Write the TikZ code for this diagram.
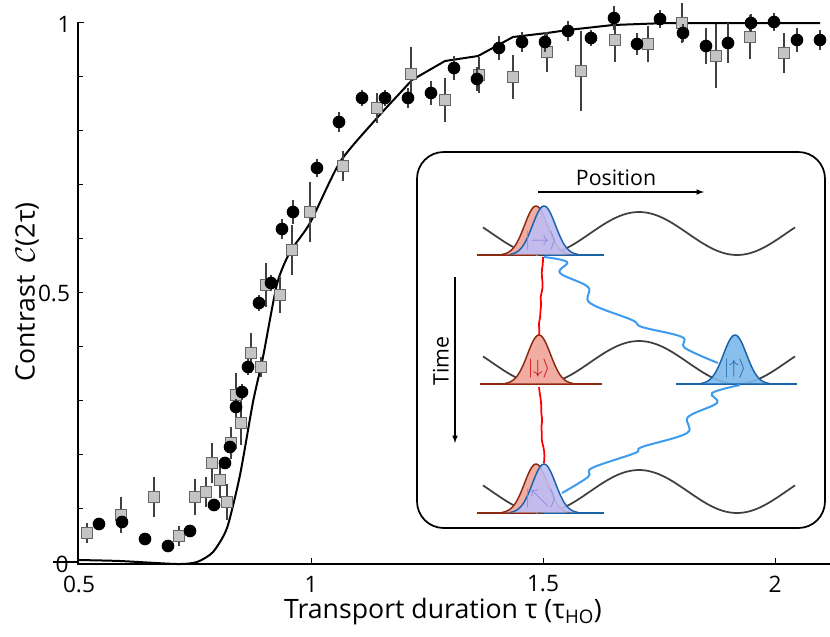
\documentclass[tikz,border=0pt]{standalone}
\usepackage{fontspec}
\setmainfont{Open Sans}
\usepackage{amsmath}
\usetikzlibrary{decorations.pathmorphing}

\definecolor{redline}{HTML}{8B2A10}
\definecolor{redfill}{HTML}{F2ADA3}
\definecolor{blueline}{HTML}{1A63A8}
\definecolor{bluefill}{HTML}{7DB9EA}
\definecolor{lavender}{HTML}{BDBDF3}
\definecolor{ketlav}{HTML}{8A84E0}
\definecolor{pathblue}{HTML}{3D9BF0}
\definecolor{sqgray}{HTML}{C4C4C4}

% wave packet: center x, baseline y, fill, line
\newcommand{\wavepacket}[4]{%
  \fill[#3] plot[domain=#1-34:#1+34, samples=50] (\x,{#2-49*exp(-((\x-#1)^2)/(2*11.5^2))}) -- cycle;
  \draw[#4, line width=1.1pt] plot[domain=#1-34:#1+34, samples=50] (\x,{#2-49*exp(-((\x-#1)^2)/(2*11.5^2))});
}
% trap potential for one row
\newcommand{\trap}[1]{%
  \draw[potential] plot[domain=483:795, samples=90] (\x,{#1+21.5*cos(1.8367*(\x-541))});
}

\begin{document}
\begin{tikzpicture}[x=0.75pt, y=-0.75pt,
    errbar/.style={draw=black!75, line width=0.9pt},
    circ/.style={circle, fill=black, inner sep=0pt, minimum size=9.5pt},
    sq/.style={rectangle, fill=sqgray, draw=black!60, line width=0.6pt, inner sep=0pt, minimum size=8pt},
    potential/.style={draw=black!75, line width=1.3pt},
    ticklabel/.style={font=\fontsize{17}{17}\selectfont},
    axislabel/.style={font=\fontsize{20}{20}\selectfont},
    ket/.style={font=\fontsize{14}{14}\selectfont, inner sep=0pt},
    wiggle/.style={line width=1.3pt, decorate, decoration={random steps, segment length=5pt, amplitude=0.9pt}, rounded corners=1.5pt}]

    \useasboundingbox (0,0) rectangle (830,636);

    % axes
    \draw[line width=0.8pt] (78,22) -- (78,564) -- (830,564);
    \draw[line width=0.8pt] (53,562) -- (78,562);
    \foreach \t in {1,...,9} \draw[line width=0.6pt] (78,{562-54*\t}) -- (83,{562-54*\t});
    \draw[line width=0.6pt] (78,22) -- (84,22);
    \foreach \px in {311,543,775} \draw[line width=0.6pt] (\px,564) -- (\px,558);

    % tick labels
    \node (y0) [ticklabel] at (62,564) {0};
    \node (y05) [ticklabel] at (54,293) {0.5};
    \node (y1) [ticklabel] at (64,24) {1};
    \node (x05) [ticklabel] at (79,584) {0.5};
    \node (x1) [ticklabel] at (311,584) {1};
    \node (x15) [ticklabel] at (543,584) {1.5};
    \node (x2) [ticklabel] at (775,584) {2};

    % axis labels
    \node (ylab) [axislabel, rotate=90] at (27,292) {Contrast\enspace$\mathcal{C}$(2τ)};
    \node (xlab) [axislabel] at (443,612) {Transport duration τ (τ\textsubscript{HO})};

    % theory curve
    \draw[line width=1.5pt, line join=round] plot[smooth, tension=0.4] coordinates {
      (78,560) (120,561) (177,564) (197,562) (213,552) (227,528) (240,475) (253,402)
      (263,357) (277,284) (290,252) (310,223) (340,162) (377,118) (400,93) (412,80)}
      -- (445,61) -- (478,56) -- (513,37) -- (547,33) -- (568,30) -- (613,25) -- (667,23) -- (820,23);

    % squares with error bars
    \foreach \px/\py/\e [count=\i] in {87/533/10, 121/515/18, 154/497/20, 179/536/10, 195/497/18,
        206/492/15, 212/463/20, 220/480/18, 227/502/18, 231/443/16, 236/395/22, 241/423/22,
        251/353/20, 261/367/10, 266/285/22, 280/295/18, 292/250/25, 310/212/30, 343/166/15,
        377/108/15, 411/74/27, 445/100/22, 479/75/18, 513/77/22, 547/52/20, 581/71/40,
        615/40/22, 648/44/18, 682/23/20, 716/56/32, 750/37/22, 784/53/20} {
      \draw[errbar] (\px,\py-\e) -- (\px,\py+\e);
      \node (s\i) [sq] at (\px,\py) {};
    }

    % circles with error bars
    \foreach \px/\py/\e [count=\i] in {99/524/5, 122/522/4, 145/539/2, 168/546/2, 190/531/3,
        214/505/6, 225/463/6, 230/447/6, 236/407/8, 242/392/8, 248/367/8, 259/303/8,
        271/283/8, 282/229/10, 293/212/12, 317/168/9, 339/122/10, 362/98/8, 385/98/8,
        408/98/10, 431/93/12, 454/68/12, 477/79/12, 499/48/12, 522/42/10, 545/42/10,
        568/31/10, 591/38/8, 614/18/12, 637/44/11, 660/19/9, 683/33/9, 706/46/18,
        728/43/20, 751/23/9, 774/22/9, 797/40/12, 820/40/10} {
      \draw[errbar] (\px,\py-\e) -- (\px,\py+\e);
      \node (c\i) [circ] at (\px,\py) {};
    }

    % inset
    \draw[line width=1.3pt, rounded corners=20pt, fill=white] (417,152) rectangle (825,528);
    \node (pos) [font=\fontsize{16}{16}\selectfont] at (616,178) {Position};
    \coordinate (posA) at (538,192);
    \coordinate (posB) at (704,192);
    \draw[-latex, line width=0.9pt] (posA) -- (posB);
    \node (time) [font=\fontsize{16}{16}\selectfont, rotate=90] at (441,361) {Time};
    \coordinate (timeA) at (455,277);
    \coordinate (timeB) at (455,443);
    \draw[-latex, line width=0.9pt] (timeA) -- (timeB);

    % row 1
    \trap{233.5}
    \draw[redline, line width=1.1pt] (477,255) -- (536,255);
    \draw[blueline, line width=1.1pt] (544,255) -- (604,255);
    \wavepacket{536}{255}{redfill}{redline}
    \wavepacket{544}{255}{lavender, opacity=0.9}{blueline}
    \node (up1) [ket, text=ketlav] at (541,241) {$|{\rightarrow}\rangle$};

    % row 2
    \trap{362.5}
    \draw[redline, line width=1.1pt] (480,384) -- (602,384);
    \wavepacket{539}{384}{redfill}{redline}
    \node (dn2) [ket, text=red!80!black] at (539,369) {$|{\downarrow}\rangle$};
    \draw[blueline, line width=1.1pt] (676,384) -- (797,384);
    \wavepacket{735}{384}{bluefill, opacity=0.9}{blueline}
    \node (up2) [ket, text=blueline] at (735,369) {$|{\uparrow}\rangle$};

    % row 3
    \trap{491.5}
    \draw[redline, line width=1.1pt] (477,513) -- (536,513);
    \draw[blueline, line width=1.1pt] (544,513) -- (604,513);
    \wavepacket{536}{513}{redfill}{redline}
    \wavepacket{544}{513}{lavender, opacity=0.9}{blueline}
    \node (dg3) [ket, text=ketlav] at (541,499) {$|{\nwarrow}\rangle$};

    % paths in time
    \pgfmathsetseed{7}
    \coordinate (r1) at (543,257);
    \coordinate (r2) at (539,335);
    \coordinate (r3) at (539,387);
    \coordinate (r4) at (544,463);
    \draw[red, wiggle] (r1) -- (r2);
    \draw[red, wiggle] (r3) -- (r4);
    \draw[pathblue, line width=1.5pt] plot[smooth, tension=0.6] coordinates {
      (544,257) (567,262) (560,273) (588,287) (590,303) (632,320) (642,327)
      (682,337) (685,348) (718,363)};
    \draw[pathblue, line width=1.5pt] plot[smooth, tension=0.6] coordinates {
      (740,385) (712,393) (717,403) (688,417) (687,433) (642,447) (635,453)
      (592,468) (588,477) (562,493)};

\end{tikzpicture}
\end{document}
